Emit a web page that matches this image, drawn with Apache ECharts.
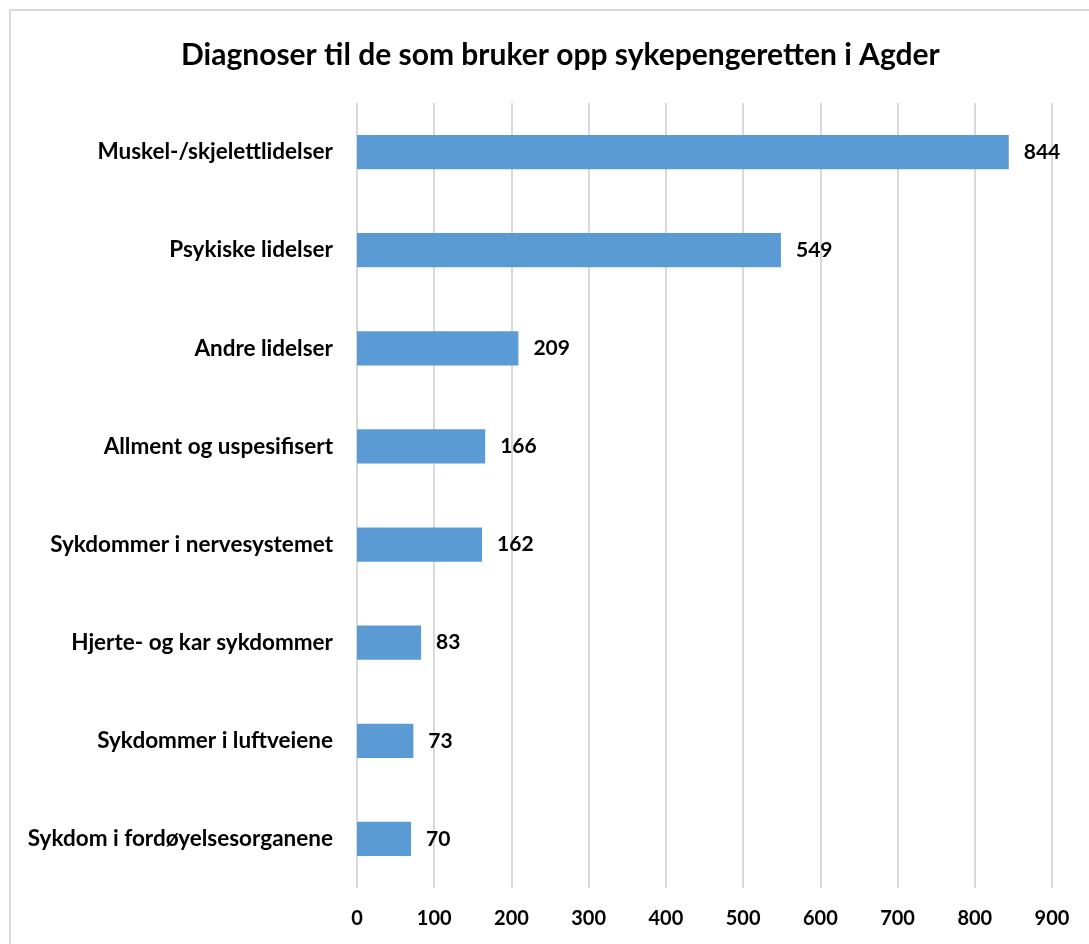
<!DOCTYPE html>
<html>
<head>
<meta charset="utf-8">
<title>Diagnoser til de som bruker opp sykepengeretten i Agder</title>
<script src="https://cdn.jsdelivr.net/npm/echarts@6/dist/echarts.min.js"></script>
<style>
  html, body { margin: 0; padding: 0; background: #ffffff; }
  #chart { width: 1089px; height: 944px; }
</style>
</head>
<body>
<div id="chart"></div>
<script>
// Diagnosis groups, listed top to bottom
const categories = [
  'Muskel-/skjelettlidelser',
  'Psykiske lidelser',
  'Andre lidelser',
  'Allment og uspesifisert',
  'Sykdommer i nervesystemet',
  'Hjerte- og kar sykdommer',
  'Sykdommer i luftveiene',
  'Sykdom i fordøyelsesorganene'
];
// Number of people per diagnosis group
const counts = [844, 549, 209, 166, 162, 83, 73, 70];
// Value axis ticks
const axisMin = 0;
const axisMax = 900;
const axisStep = 100;

const FONT = 'Lato, "Open Sans", sans-serif';

const chart = echarts.init(document.getElementById('chart'), null, { renderer: 'canvas' });

chart.setOption({
  backgroundColor: '#ffffff',
  animation: false,
  title: {
    text: 'Diagnoser til de som bruker opp sykepengeretten i Agder',
    left: 176,
    top: 35,
    textStyle: { fontFamily: FONT, fontSize: 30, fontWeight: 'bold', color: '#000000' }
  },
  graphic: [{
    type: 'rect',
    shape: { x: 10, y: 10, width: 1200, height: 1200 },
    style: { fill: 'none', stroke: '#D9D9D9', lineWidth: 2 },
    silent: true,
    z: -1
  }],
  grid: { left: 357, right: 37, top: 103, bottom: 56, containLabel: false },
  xAxis: {
    type: 'value',
    min: axisMin,
    max: axisMax,
    interval: axisStep,
    axisLine: { show: false },
    axisTick: { show: false },
    splitLine: { show: true, lineStyle: { color: '#D9D9D9', width: 2 } },
    axisLabel: { fontFamily: FONT, fontSize: 20, fontWeight: 'bold', color: '#000000', margin: 21 }
  },
  yAxis: {
    type: 'category',
    data: categories,
    inverse: true,
    axisLine: { show: false },
    axisTick: { show: false },
    splitLine: { show: false },
    axisLabel: { fontFamily: FONT, fontSize: 22.5, fontWeight: 'bold', color: '#000000', margin: 24 }
  },
  series: [{
    type: 'bar',
    data: counts,
    barWidth: '35%',
    itemStyle: { color: '#5B9BD5' },
    label: {
      show: true,
      position: 'right',
      distance: 15,
      fontFamily: FONT,
      fontSize: 21,
      fontWeight: 'bold',
      color: '#000000'
    }
  }]
});
</script>
</body>
</html>
